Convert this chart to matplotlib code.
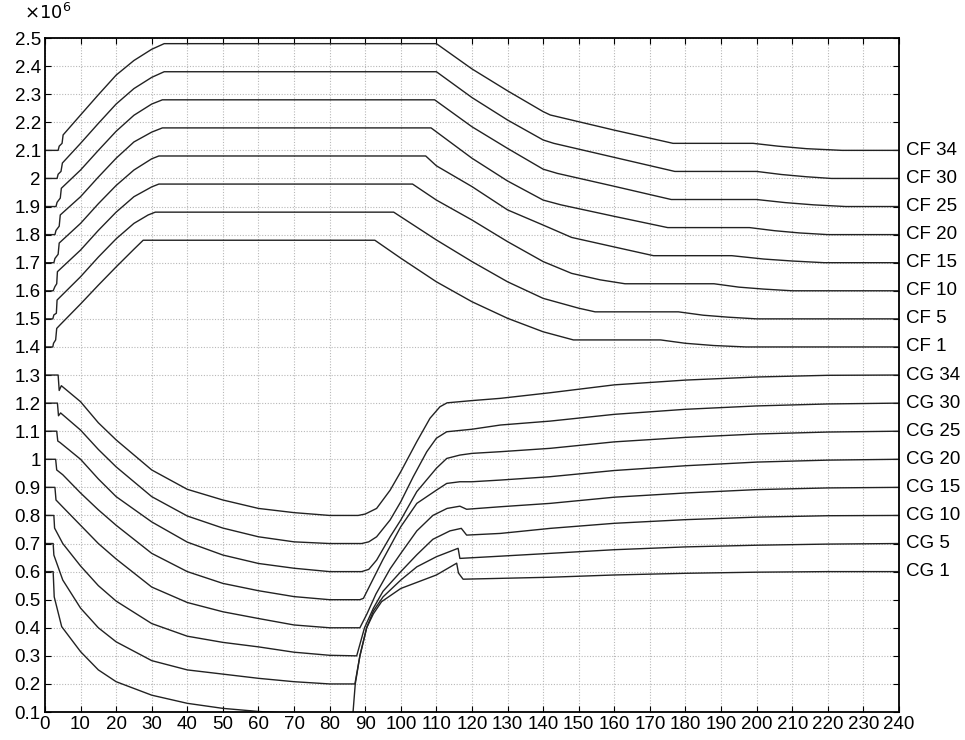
import matplotlib
matplotlib.use("Agg")
import matplotlib.pyplot as plt
from matplotlib.ticker import FuncFormatter

plt.rcParams["font.family"] = ["Liberation Sans", "DejaVu Sans"]

# values in units of 1e6
cf34_x = [0, 3.7, 4.0, 4.8, 5.1, 10, 15, 20, 25, 30, 33.5, 110, 120, 130, 140, 142, 160, 176.5, 199, 206, 214, 224, 240]
cf34_y = [2.1, 2.1, 2.115, 2.125, 2.155, 2.226, 2.298, 2.368, 2.42, 2.46, 2.48, 2.48, 2.39, 2.312, 2.238, 2.226, 2.172, 2.125, 2.125, 2.115, 2.106, 2.1, 2.1]

cf30_x = [0, 3.4, 3.7, 4.5, 4.9, 10, 15, 20, 25, 30, 33.5, 110, 120, 130, 140, 143, 160, 177, 200, 207, 214, 221, 240]
cf30_y = [2.0, 2.0, 2.015, 2.025, 2.055, 2.125, 2.196, 2.265, 2.32, 2.36, 2.38, 2.38, 2.288, 2.208, 2.137, 2.125, 2.075, 2.025, 2.025, 2.014, 2.006, 2.0, 2.0]

cf25_x = [0, 3.1, 3.4, 4.3, 4.6, 10, 15, 20, 25, 30, 33, 109.5, 120, 130, 140, 144, 160, 176, 200, 208, 216, 225, 240]
cf25_y = [1.9, 1.9, 1.915, 1.93, 1.965, 2.03, 2.1, 2.168, 2.225, 2.265, 2.28, 2.28, 2.184, 2.107, 2.033, 2.018, 1.972, 1.925, 1.925, 1.914, 1.906, 1.9, 1.9]

cf20_x = [0, 2.8, 3.1, 4.0, 4.3, 10, 15, 20, 25, 30, 33, 108.5, 120, 130, 140, 145, 160, 175, 198, 205, 212, 220, 240]
cf20_y = [1.8, 1.8, 1.815, 1.83, 1.87, 1.935, 2.005, 2.072, 2.13, 2.165, 2.18, 2.18, 2.072, 1.991, 1.923, 1.906, 1.865, 1.825, 1.825, 1.814, 1.806, 1.8, 1.8]

cf15_x = [0, 2.5, 2.8, 3.7, 4.0, 10, 15, 20, 25, 30, 32, 107, 110, 120, 130, 140, 148, 160, 171, 193, 202, 210, 219, 240]
cf15_y = [1.7, 1.7, 1.715, 1.73, 1.77, 1.84, 1.91, 1.975, 2.03, 2.07, 2.08, 2.08, 2.045, 1.971, 1.888, 1.834, 1.79, 1.756, 1.725, 1.725, 1.713, 1.706, 1.7, 1.7]

cf10_x = [0, 2.3, 2.8, 3.3, 3.5, 10, 15, 20, 25, 30, 32, 103.3, 110, 120, 130, 140, 148, 156, 163, 188, 195, 202, 210, 240]
cf10_y = [1.6, 1.6, 1.615, 1.625, 1.668, 1.745, 1.815, 1.88, 1.935, 1.97, 1.98, 1.98, 1.923, 1.852, 1.775, 1.704, 1.662, 1.639, 1.625, 1.625, 1.613, 1.606, 1.6, 1.6]

cf5_x = [0, 2.2, 2.5, 3.2, 3.4, 10, 15, 20, 25, 29, 31, 98, 110, 120, 130, 140, 150, 154.6, 178, 185, 192, 200, 240]
cf5_y = [1.5, 1.5, 1.514, 1.52, 1.567, 1.65, 1.72, 1.785, 1.84, 1.87, 1.88, 1.88, 1.781, 1.704, 1.632, 1.573, 1.538, 1.525, 1.525, 1.513, 1.506, 1.5, 1.5]

cf1_x = [0, 2.2, 2.4, 3.0, 3.3, 4.2, 10, 15, 20, 25, 27.6, 92.7, 100, 110, 120, 130, 140, 148.5, 173, 180, 188, 197, 240]
cf1_y = [1.4, 1.4, 1.413, 1.425, 1.466, 1.478, 1.553, 1.62, 1.685, 1.748, 1.78, 1.78, 1.716, 1.632, 1.561, 1.502, 1.454, 1.425, 1.425, 1.413, 1.405, 1.4, 1.4]

cg34_x = [0, 3.7, 4.0, 4.6, 10, 15, 20, 30, 40, 50, 60, 70, 80, 88, 90, 93.2, 97, 100, 104.5, 108.2, 111, 113, 120, 128, 142, 160, 180, 200, 220, 240]
cg34_y = [1.3, 1.3, 1.245, 1.262, 1.205, 1.13, 1.069, 0.962, 0.893, 0.855, 0.825, 0.81, 0.80, 0.80, 0.805, 0.825, 0.89, 0.956, 1.063, 1.146, 1.187, 1.201, 1.209, 1.217, 1.237, 1.265, 1.282, 1.293, 1.299, 1.3]

cg30_x = [0, 3.5, 3.8, 4.4, 10, 15, 20, 30, 40, 50, 60, 70, 80, 89, 91, 93.2, 97, 100, 103.5, 107.3, 110, 112.9, 120, 128, 142, 160, 180, 200, 220, 240]
cg30_y = [1.2, 1.2, 1.155, 1.165, 1.104, 1.035, 0.973, 0.867, 0.798, 0.755, 0.724, 0.706, 0.70, 0.70, 0.706, 0.724, 0.784, 0.849, 0.938, 1.027, 1.075, 1.098, 1.107, 1.122, 1.136, 1.16, 1.178, 1.19, 1.197, 1.2]

cg25_x = [0, 3.3, 3.6, 4.2, 10, 15, 20, 30, 40, 50, 60, 70, 80, 89, 91, 93.2, 97, 100, 104.5, 110, 112.9, 116.6, 120, 128, 142, 160, 180, 200, 220, 240]
cg25_y = [1.1, 1.1, 1.065, 1.06, 1.0, 0.93, 0.867, 0.777, 0.705, 0.659, 0.629, 0.612, 0.60, 0.60, 0.608, 0.641, 0.724, 0.784, 0.885, 0.968, 1.003, 1.015, 1.021, 1.027, 1.039, 1.062, 1.078, 1.09, 1.097, 1.1]

cg20_x = [0, 3.0, 3.3, 5, 10, 15, 20, 30, 40, 50, 60, 70, 80, 88.5, 89.5, 91.6, 94.9, 100, 104.5, 110, 112.9, 116.6, 120, 128, 142, 160, 180, 200, 220, 240]
cg20_y = [1.0, 1.0, 0.962, 0.945, 0.88, 0.82, 0.765, 0.665, 0.60, 0.558, 0.532, 0.511, 0.50, 0.50, 0.505, 0.558, 0.641, 0.76, 0.843, 0.89, 0.914, 0.92, 0.92, 0.926, 0.938, 0.96, 0.977, 0.99, 0.997, 1.0]

cg15_x = [0, 2.8, 3.1, 5, 10, 15, 20, 30, 40, 50, 60, 70, 80, 88.5, 90.5, 93, 97, 100, 104.5, 109, 113, 116.6, 118.5, 128, 142, 160, 180, 200, 220, 240]
cg15_y = [0.9, 0.9, 0.855, 0.83, 0.765, 0.70, 0.645, 0.545, 0.49, 0.457, 0.433, 0.41, 0.40, 0.40, 0.45, 0.52, 0.61, 0.665, 0.745, 0.80, 0.825, 0.833, 0.822, 0.831, 0.843, 0.865, 0.88, 0.892, 0.898, 0.9]

cg10_x = [0, 2.5, 2.7, 5, 10, 15, 20, 30, 40, 50, 60, 70, 80, 87.6, 89.8, 92.3, 95, 100, 104.5, 109, 113.8, 117, 118.5, 128, 142, 160, 180, 200, 220, 240]
cg10_y = [0.8, 0.8, 0.755, 0.70, 0.62, 0.55, 0.495, 0.415, 0.37, 0.348, 0.332, 0.313, 0.302, 0.30, 0.40, 0.47, 0.53, 0.60, 0.66, 0.715, 0.745, 0.754, 0.73, 0.736, 0.754, 0.772, 0.785, 0.794, 0.799, 0.8]

cg5_x = [0, 2.3, 2.5, 5, 10, 15, 20, 30, 40, 50, 60, 70, 80, 87.1, 88.5, 90.4, 92.3, 95, 100, 104.5, 110, 116.1, 116.6, 118, 128, 142, 160, 180, 200, 220, 240]
cg5_y = [0.7, 0.7, 0.659, 0.57, 0.47, 0.40, 0.35, 0.283, 0.25, 0.235, 0.22, 0.208, 0.20, 0.20, 0.30, 0.40, 0.46, 0.51, 0.57, 0.617, 0.653, 0.683, 0.647, 0.648, 0.655, 0.665, 0.678, 0.688, 0.694, 0.698, 0.70]

cg1_x = [0, 2.3, 2.6, 4.7, 10, 15, 20, 30, 40, 50, 60, 70, 80, 86.5, 87.2, 88.5, 90.4, 92.3, 94.6, 100, 110, 115.7, 116.2, 117.5, 128, 142, 160, 180, 200, 220, 240]
cg1_y = [0.6, 0.6, 0.51, 0.404, 0.315, 0.25, 0.208, 0.16, 0.131, 0.113, 0.102, 0.095, 0.09, 0.088, 0.2, 0.30, 0.40, 0.45, 0.493, 0.54, 0.588, 0.63, 0.595, 0.573, 0.576, 0.58, 0.588, 0.594, 0.598, 0.60, 0.60]

labels = ["CF 34", "CF 30", "CF 25", "CF 20", "CF 15", "CF 10", "CF 5", "CF 1",
          "CG 34", "CG 30", "CG 25", "CG 20", "CG 15", "CG 10", "CG 5", "CG 1"]
curves = [(cf34_x, cf34_y), (cf30_x, cf30_y), (cf25_x, cf25_y), (cf20_x, cf20_y),
          (cf15_x, cf15_y), (cf10_x, cf10_y), (cf5_x, cf5_y), (cf1_x, cf1_y),
          (cg34_x, cg34_y), (cg30_x, cg30_y), (cg25_x, cg25_y), (cg20_x, cg20_y),
          (cg15_x, cg15_y), (cg10_x, cg10_y), (cg5_x, cg5_y), (cg1_x, cg1_y)]

fig = plt.figure(figsize=(9.65, 7.4), dpi=100)
ax = fig.add_axes([0.0466, 0.0378, 0.885, 0.9108])

for (xs, ys), name in zip(curves, labels):
    ax.plot(xs, ys, color="#222222", lw=1.0)
    ax.text(1.008, ys[-1], name, transform=ax.get_yaxis_transform(),
            ha="left", va="center", fontsize=13.5)

ax.set_xlim(0, 240)
ax.set_ylim(0.1, 2.5)
ax.set_xticks(range(0, 241, 10))
ax.set_yticks([i / 10 for i in range(1, 26)])
ax.yaxis.set_major_formatter(FuncFormatter(lambda v, p: "%g" % round(v, 1)))
ax.grid(True, color="#b8b8b8", linestyle=(0, (1, 1.5)), lw=0.8)
ax.tick_params(direction="in", length=4, labelsize=13.5, pad=3, top=True, right=True)
for s in ax.spines.values():
    s.set_linewidth(1.3)

# multiplier shown above the y axis, as in the original
ax.text(-0.025, 1.022, r"$\times10^{6}$", transform=ax.transAxes,
        ha="left", va="bottom", fontsize=13)

fig.savefig("out.png", dpi=100)
